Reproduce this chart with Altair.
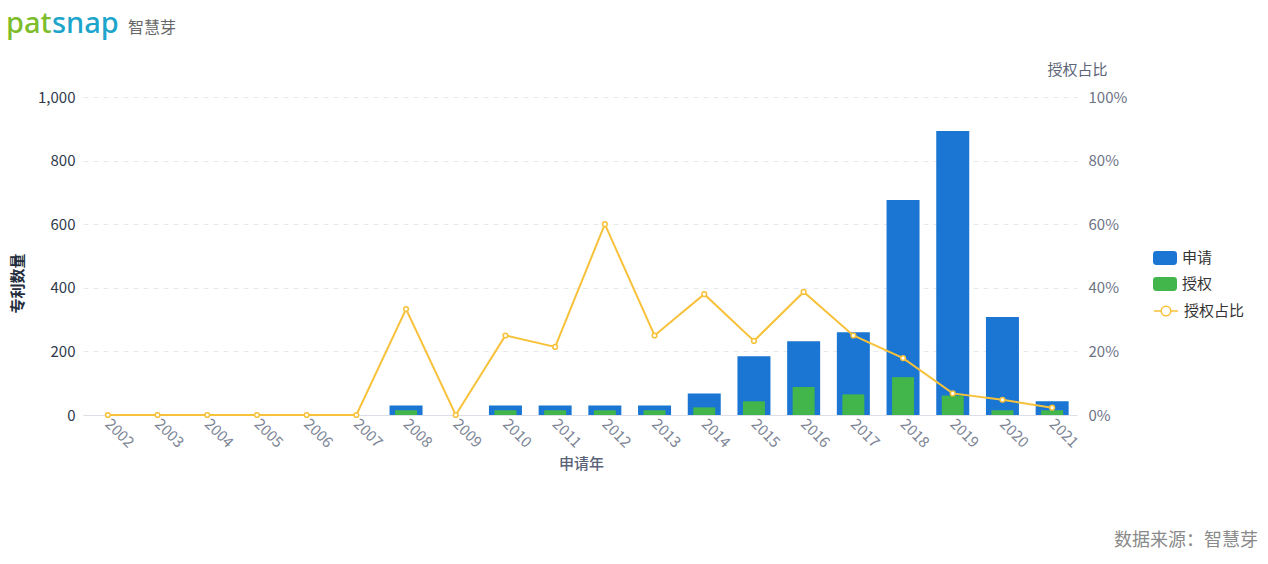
import altair as alt
import pandas as pd

years = [str(y) for y in range(2002, 2022)]
apply_counts = [0, 0, 0, 0, 0, 0, 30, 0, 30, 30, 30, 30, 68, 185, 232, 260, 676, 893, 308, 43]
grant_counts = [0, 0, 0, 0, 0, 0, 15, 0, 15, 15, 15, 15, 24, 43, 88, 65, 119, 61, 15, 15]
grant_ratio = [0, 0, 0, 0, 0, 0, 0.333, 0, 0.25, 0.214, 0.60, 0.25, 0.38, 0.233, 0.387, 0.25, 0.179, 0.068, 0.048, 0.023]

series_names = ["申请", "授权"]
ratio_name = "授权占比"
BLUE = "#1a76d2"
GREEN = "#42b54b"
ORANGE = "#f7c13a"

FONT = "Noto Sans CJK SC"
W, H = 994, 318
PAD = {"left": 83, "top": 97, "right": 1268 - 83 - W, "bottom": 564 - 97 - H}

bars_df = pd.DataFrame(
    {"year": years * 2,
     "series": ["申请"] * len(years) + ["授权"] * len(years),
     "value": apply_counts + grant_counts}
)
ratio_df = pd.DataFrame({"year": years, "ratio": grant_ratio, "name": ratio_name})

xscale = alt.Scale(domain=years, paddingInner=0, paddingOuter=0)
xaxis = alt.Axis(
    title="申请年", labelAngle=45, labelAlign="left", labelBaseline="middle",
    labelPadding=6, labelColor="#7d8596", labelFontSize=15, labelFont=FONT,
    ticks=False, domainColor="#dcdfe6", domainWidth=1,
    titleX=498, titleY=41, titleColor="#5a6478", titleFontSize=15,
    titleFont=FONT, titleFontWeight=500,
)

rrect = ("M-0.72,-0.58 L0.72,-0.58 Q1,-0.58 1,-0.3 L1,0.3 Q1,0.58 0.72,0.58 "
         "L-0.72,0.58 Q-1,0.58 -1,0.3 L-1,-0.3 Q-1,-0.58 -0.72,-0.58 Z")
line_sym = ("M-1,0 L-0.4,0 M0.4,0 L1,0 M0.4,0 A0.4,0.4 0 1 1 -0.4,0 "
            "A0.4,0.4 0 1 1 0.4,0 Z")

color = alt.Color(
    "series:N",
    scale=alt.Scale(domain=series_names, range=[BLUE, GREEN]),
    legend=alt.Legend(
        title=None, orient="none", legendX=1070, legendY=149,
        symbolType=rrect, symbolSize=576, symbolStrokeWidth=0,
        labelFontSize=15, labelFont=FONT, labelColor="#333333",
        labelOffset=5, rowPadding=6,
    ),
)

yleft = alt.Y(
    "value:Q",
    scale=alt.Scale(domain=[0, 1000], nice=False),
    axis=alt.Axis(
        title="专利数量", format=",d", values=[0, 200, 400, 600, 800, 1000],
        grid=True, gridDash=[5, 5], gridColor="#e6e9f0", domain=False, ticks=False,
        labelColor="#2f3a4c", labelFontSize=15, labelFont=FONT, labelPadding=8,
        titleX=-66, titleY=186, titleAngle=-90, titleAlign="center",
        titleBaseline="middle", titleFontSize=15, titleFont=FONT,
        titleFontWeight="bold", titleColor="#1f2d3d",
    ),
)

base_bar = alt.Chart(bars_df)
blue = base_bar.transform_filter(alt.datum.series == "申请").mark_bar(size=33).encode(
    x=alt.X("year:N", scale=xscale, axis=xaxis, sort=years), y=yleft, color=color
)
green = base_bar.transform_filter(alt.datum.series == "授权").mark_bar(size=22).encode(
    x=alt.X("year:N", scale=xscale, sort=years), y=alt.Y("value:Q"), color=color
)

yright = alt.Y(
    "ratio:Q",
    scale=alt.Scale(domain=[0, 1], nice=False),
    axis=alt.Axis(
        title="授权占比", orient="right", format=".0%",
        values=[0, 0.2, 0.4, 0.6, 0.8, 1.0], grid=False, domain=False, ticks=False,
        labelColor="#6b7385", labelFontSize=15, labelFont=FONT, labelPadding=11,
        titleX=0, titleY=-28, titleAngle=0, titleAlign="center",
        titleBaseline="middle", titleFontSize=15, titleFont=FONT,
        titleFontWeight="normal", titleColor="#5c6578",
    ),
)

stroke = alt.Stroke(
    "name:N",
    scale=alt.Scale(domain=[ratio_name], range=[ORANGE]),
    legend=alt.Legend(
        title=None, orient="none", legendX=1070, legendY=201,
        symbolType=line_sym, symbolSize=576, symbolStrokeWidth=1.5,
        symbolFillColor="white",
        labelFontSize=15, labelFont=FONT, labelColor="#333333", labelOffset=5,
    ),
)

base_line = alt.Chart(ratio_df)
line = base_line.mark_line(strokeWidth=2).encode(
    x=alt.X("year:N", scale=xscale, sort=years), y=yright, stroke=stroke
)
points = base_line.mark_point(filled=False, fill="white", fillOpacity=1, size=22, strokeWidth=1.5).encode(
    x=alt.X("year:N", scale=xscale, sort=years), y=alt.Y("ratio:Q"), stroke=stroke
)

one = pd.DataFrame({"k": [0]})
logo_pat = alt.Chart(one).mark_text(
    text="pat", font="Noto Sans", fontSize=29, fontWeight=500, color="#7dbd2c", align="left", baseline="alphabetic"
).encode(x=alt.value(6 - 83), y=alt.value(33 - 97))
logo_snap = alt.Chart(one).mark_text(
    text="snap", font="Noto Sans", fontSize=29, fontWeight=500, color="#1ea5cb", align="left", baseline="alphabetic"
).encode(x=alt.value(52 - 83), y=alt.value(33 - 97))
logo_cn = alt.Chart(one).mark_text(
    text="智慧芽", font=FONT, fontSize=16, color="#666666", align="left", baseline="middle"
).encode(x=alt.value(128 - 83), y=alt.value(28 - 97))
source = alt.Chart(one).mark_text(
    text="数据来源：智慧芽", font=FONT, fontSize=18, color="#8a8a8a", align="right", baseline="middle"
).encode(x=alt.value(1258 - 83), y=alt.value(541 - 97))

left_layer = alt.layer(blue, green, logo_pat, logo_snap, logo_cn, source)
right_layer = alt.layer(line, points)

chart = alt.layer(left_layer, right_layer).resolve_scale(
    y="independent", color="independent", stroke="independent"
).properties(
    width=W, height=H, padding=PAD, autosize=alt.AutoSizeParams(type="none"),
    background="white",
).configure_view(stroke=None)

chart.save("out.html", embed_options={"renderer": "svg", "actions": False})
